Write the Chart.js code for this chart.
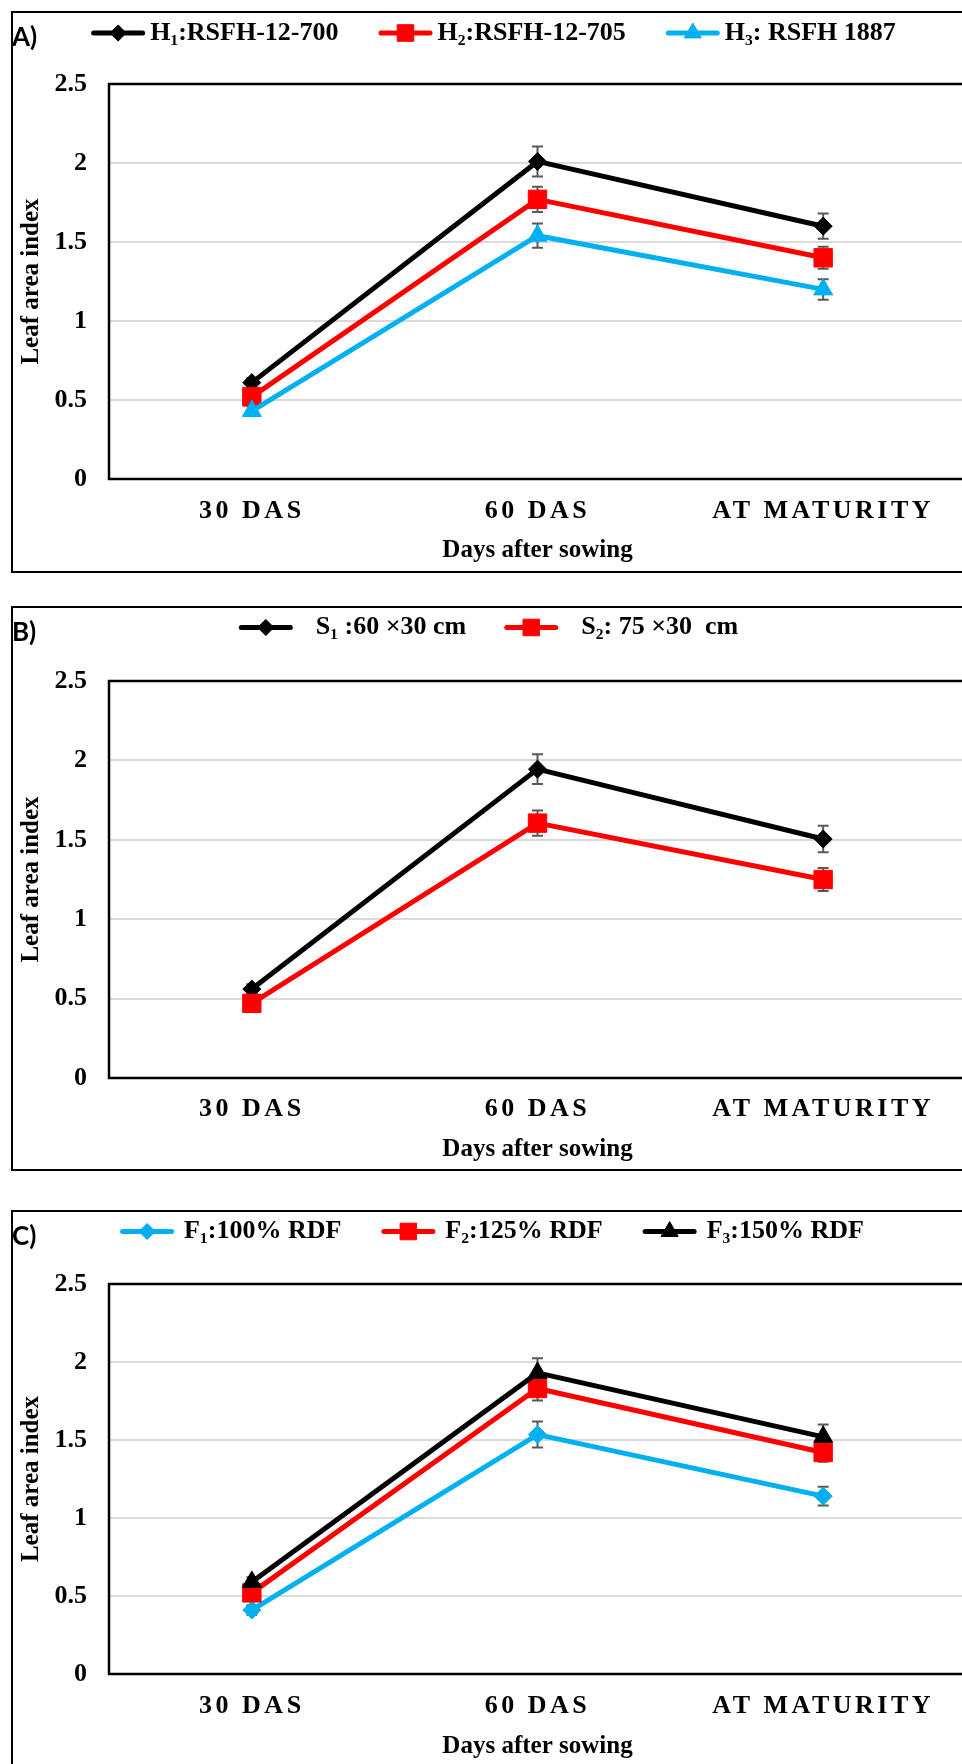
<!DOCTYPE html>
<html>
<head>
<meta charset="utf-8">
<script src="https://cdn.jsdelivr.net/npm/chart.js@4.4.0/dist/chart.umd.min.js"></script>
<style>
  html, body { margin: 0; padding: 0; background: #fff; overflow: hidden; width: 962px; height: 1764px; }
  .panel { position: absolute; left: 11px; width: 980px; border: 2px solid #000; }
  .panel canvas { display: block; }
  .tag { position: absolute; left: -1px; top: 7px; line-height: 26px; font: bold 26px Lato, "Liberation Sans", sans-serif; color: #000; }
</style>
</head>
<body>
<div class="panel" style="top:11px;height:558px"><canvas id="chartA" width="980" height="558"></canvas><div class="tag">A)</div></div>
<div class="panel" style="top:606px;height:561px"><canvas id="chartB" width="980" height="561"></canvas><div class="tag">B)</div></div>
<div class="panel" style="top:1210px;height:554px"><canvas id="chartC" width="980" height="554"></canvas><div class="tag">C)</div></div>

<script>
/* ── data ───────────────────────────────────────────── */
const CATEGORIES = ['30 DAS', '60 DAS', 'AT MATURITY'];
const Y_TICKS    = [0, 0.5, 1, 1.5, 2, 2.5];

// A) hybrids
const H_LABELS = ['H₁:RSFH-12-700', 'H₂:RSFH-12-705', 'H₃: RSFH 1887'];
const H1 = [0.61, 2.01, 1.60];  const H1_ERR = [0.03, 0.095, 0.08];
const H2 = [0.52, 1.77, 1.40];  const H2_ERR = [0.03, 0.08, 0.07];
const H3 = [0.43, 1.54, 1.20];  const H3_ERR = [0.03, 0.077, 0.065];

// B) spacing
const S_LABELS = ['S₁ :60 ×30 cm', 'S₂: 75 ×30  cm'];
const S1 = [0.56, 1.945, 1.505]; const S1_ERR = [0.03, 0.094, 0.083];
const S2 = [0.47, 1.605, 1.25];  const S2_ERR = [0.03, 0.08, 0.072];

// C) fertilizer
const F_LABELS = ['F₁:100% RDF', 'F₂:125% RDF', 'F₃:150% RDF'];
const F1 = [0.41, 1.535, 1.14]; const F1_ERR = [0.03, 0.083, 0.06];
const F2 = [0.52, 1.83, 1.42];  const F2_ERR = [0.03, 0.077, 0.06];
const F3 = [0.59, 1.93, 1.52];  const F3_ERR = [0.03, 0.094, 0.079];

/* ── styling ────────────────────────────────────────── */
const SERIF = '"Liberation Serif", "Times New Roman", serif';
const BLACK = '#000000', RED = '#ff0000', CYAN = '#00b0f0';
const MARK = { rectRot: 9, rect: 13, triangle: 11 };

// Excel-style legend: line with the marker in the middle
const lineLegend = {
  id: 'lineLegend',
  afterDraw(chart, args, o) {
    const ctx = chart.ctx;
    ctx.save();
    ctx.font = `bold 26px ${SERIF}`;
    const items = chart.data.datasets.map(ds => ({ ds, w: 54 + o.gap + ctx.measureText(ds.label).width }));
    const total = items.reduce((s, it) => s + it.w, 0) + o.itemGap * (items.length - 1);
    let x = o.cx - total / 2;
    items.forEach(({ ds, w }) => {
      ctx.strokeStyle = ds.borderColor; ctx.lineWidth = 5; ctx.lineCap = 'round';
      ctx.beginPath(); ctx.moveTo(x + 2.5, o.cy); ctx.lineTo(x + 51.5, o.cy); ctx.stroke();
      ctx.fillStyle = ds.borderColor; ctx.lineWidth = 1; ctx.lineCap = 'butt';
      Chart.helpers.drawPoint(ctx, { pointStyle: ds.pointStyle, radius: ds.pointRadius * 0.9, rotation: 0, borderWidth: 1 }, x + 27, o.cy);
      ctx.fillStyle = '#000'; ctx.textAlign = 'left'; ctx.textBaseline = 'middle';
      ctx.fillText(ds.label, x + 54 + o.gap, o.cy);
      x += w + o.itemGap;
    });
    ctx.restore();
  },
};

// plot-area frame + error bars (behind the markers)
const frameAndErrors = {
  id: 'frameAndErrors',
  beforeDraw(chart) {
    // letter-spaced category labels
    const xs = chart.scales.x;
    if (xs && !xs._spaced) {
      const orig = xs.drawLabels;
      xs.drawLabels = function (area) {
        this.ctx.save(); this.ctx.letterSpacing = '3.5px';
        orig.call(this, area);
        this.ctx.restore();
      };
      xs._spaced = true;
    }
  },
  beforeDatasetsDraw(chart) {
    const { ctx, chartArea: a, scales: { y } } = chart;
    ctx.save();
    ctx.strokeStyle = '#000'; ctx.lineWidth = 2.5;
    ctx.strokeRect(a.left, a.top, a.right - a.left, a.bottom - a.top);
    ctx.strokeStyle = '#595959'; ctx.lineWidth = 2;
    chart.data.datasets.forEach((ds, i) => {
      chart.getDatasetMeta(i).data.forEach((pt, j) => {
        const e = ds.err[j];
        const t = y.getPixelForValue(ds.data[j] + e), b = y.getPixelForValue(ds.data[j] - e);
        ctx.beginPath();
        ctx.moveTo(pt.x, t); ctx.lineTo(pt.x, b);
        ctx.moveTo(pt.x - 5.5, t); ctx.lineTo(pt.x + 5.5, t);
        ctx.moveTo(pt.x - 5.5, b); ctx.lineTo(pt.x + 5.5, b);
        ctx.stroke();
      });
    });
    ctx.restore();
  },
};
Chart.register(lineLegend, frameAndErrors);

function series(label, data, err, color, style, i) {
  return {
    label, data, err,
    borderColor: color, backgroundColor: color, borderWidth: 5,
    pointStyle: style, pointRadius: MARK[style], pointBorderWidth: 1,
    pointBackgroundColor: color, pointBorderColor: color,
    tension: 0, order: -i,
  };
}

function makeChart(id, datasets, lay) {
  new Chart(document.getElementById(id), {
    type: 'line',
    data: { labels: CATEGORIES, datasets },
    options: {
      responsive: false, animation: false, events: [],
      layout: { padding: { top: lay.plotTop, right: 27, bottom: 0, left: 0 } },
      plugins: {
        legend: { display: false }, tooltip: { enabled: false },
        lineLegend: lay.legend,
      },
      scales: {
        x: {
          offset: true,
          grid: { display: false, drawTicks: false },
          border: { display: false },
          ticks: { color: '#000', font: { family: SERIF, size: 26, weight: 'bold' }, padding: lay.labelPad, maxRotation: 0, autoSkip: false },
          title: { display: true, text: 'Days after sowing', color: '#000', font: { family: SERIF, size: 25, weight: 'bold' }, padding: { top: 0, bottom: lay.titlePad } },
          afterFit: s => { s.height = lay.h - lay.plotBottom; },
        },
        y: {
          min: 0, max: 2.5,
          afterBuildTicks: s => { s.ticks = Y_TICKS.map(v => ({ value: v })); },
          grid: {
            color: c => (c.tick && (c.tick.value === 0 || c.tick.value === 2.5)) ? 'rgba(0,0,0,0)' : '#d9d9d9',
            lineWidth: 2, drawTicks: false,
          },
          border: { display: false },
          ticks: { color: '#000', font: { family: SERIF, size: 26, weight: 'bold' }, padding: 22, callback: v => String(v) },
          title: { display: true, text: 'Leaf area index', color: '#000', font: { family: SERIF, size: 25, weight: 'bold' }, padding: { top: 4, bottom: 0 } },
          afterFit: s => { s.width = 96; },
        },
      },
    },
  });
}

makeChart('chartA', [
  series(H_LABELS[0], H1, H1_ERR, BLACK, 'rectRot', 0),
  series(H_LABELS[1], H2, H2_ERR, RED, 'rect', 1),
  series(H_LABELS[2], H3, H3_ERR, CYAN, 'triangle', 2),
], { h: 558, plotTop: 71, plotBottom: 466, labelPad: 17, titlePad: 5, legend: { cx: 480.5, cy: 20, gap: 5, itemGap: 40 } });

makeChart('chartB', [
  series(S_LABELS[0], S1, S1_ERR, BLACK, 'rectRot', 0),
  series(S_LABELS[1], S2, S2_ERR, RED, 'rect', 1),
], { h: 561, plotTop: 73, plotBottom: 470, labelPad: 16, titlePad: 4, legend: { cx: 475.5, cy: 19.5, gap: 23, itemGap: 38 } });

makeChart('chartC', [
  series(F_LABELS[0], F1, F1_ERR, CYAN, 'rectRot', 0),
  series(F_LABELS[1], F2, F2_ERR, RED, 'rect', 1),
  series(F_LABELS[2], F3, F3_ERR, BLACK, 'triangle', 2),
], { h: 554, plotTop: 72, plotBottom: 462, labelPad: 16.5, titlePad: 4, legend: { cx: 479, cy: 19.5, gap: 10, itemGap: 40 } });
</script>
</body>
</html>
